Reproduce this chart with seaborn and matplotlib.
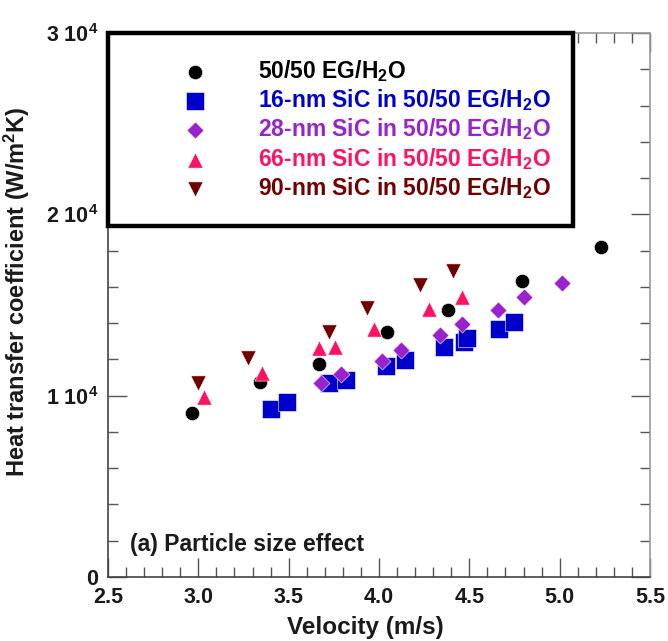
import numpy as np
import pandas as pd
import matplotlib
matplotlib.use("Agg")
import matplotlib.pyplot as plt
import seaborn as sns
from matplotlib.ticker import MultipleLocator, FixedLocator

# ---- data ----
base_v = [2.965, 3.341, 3.668, 4.044, 4.382, 4.792, 5.229]
base_h = [9044, 10754, 11747, 13512, 14725, 16324, 18200]

sic16_v = [3.402, 3.491, 3.723, 3.817, 4.039, 4.144, 4.360, 4.470, 4.487, 4.664, 4.747]
sic16_h = [9265, 9651, 10699, 10865, 11637, 11968, 12685, 12960, 13181, 13677, 14063]

sic28_v = [3.679, 3.790, 4.017, 4.122, 4.338, 4.459, 4.659, 4.803, 5.013]
sic28_h = [10699, 11195, 11912, 12519, 13346, 13953, 14725, 15442, 16214]

sic66_v = [3.031, 3.352, 3.668, 3.756, 3.972, 4.277, 4.459]
sic66_h = [9927, 11251, 12629, 12685, 13677, 14780, 15442]

sic90_v = [2.998, 3.275, 3.723, 3.934, 4.227, 4.410]
sic90_h = [10699, 12078, 13512, 14835, 16104, 16876]

labels = [
    "50/50 EG/H$_2$O",
    "16-nm SiC in 50/50 EG/H$_2$O",
    "28-nm SiC in 50/50 EG/H$_2$O",
    "66-nm SiC in 50/50 EG/H$_2$O",
    "90-nm SiC in 50/50 EG/H$_2$O",
]
colors = ["#000000", "#0000CC", "#9922CC", "#FF1166", "#700000"]
markers = ["o", "s", "D", "^", "v"]
sizes = [105, 150, 75, 120, 120]

x_ticks = [2.5, 3.0, 3.5, 4.0, 4.5, 5.0, 5.5]
x_ticklabels = ["2.5", "3.0", "3.5", "4.0", "4.5", "5.0", "5.5"]
y_ticks = [0, 10000, 20000, 30000]
y_ticklabels = ["0", "1 10$^4$", "2 10$^4$", "3 10$^4$"]

series = [(base_v, base_h), (sic16_v, sic16_h), (sic28_v, sic28_h),
          (sic66_v, sic66_h), (sic90_v, sic90_h)]

frames = []
for lab, (v, h) in zip(labels, series):
    frames.append(pd.DataFrame({"v": v, "h": h, "fluid": lab}))
df = pd.concat(frames, ignore_index=True)

sns.set_style("ticks")
plt.rcParams["font.family"] = ["Liberation Sans", "DejaVu Sans"]
plt.rcParams["font.weight"] = "bold"
plt.rcParams["mathtext.fontset"] = "custom"
plt.rcParams["mathtext.rm"] = "Liberation Sans:bold"
plt.rcParams["mathtext.it"] = "Liberation Sans:bold"
plt.rcParams["mathtext.bf"] = "Liberation Sans:bold"
plt.rcParams["mathtext.default"] = "bf"

fig = plt.figure(figsize=(6.68, 6.41), dpi=100)
ax = fig.add_axes([108 / 668, 1 - 577 / 641, 542 / 668, 544 / 641])

for lab, col, mk, sz in zip(labels, colors, markers, sizes):
    sub = df[df["fluid"] == lab]
    sns.scatterplot(data=sub, x="v", y="h", ax=ax, color=col, marker=mk,
                    s=sz, edgecolor="white", linewidth=0.4, label=lab, zorder=3)

ax.set_xlim(2.5, 5.5)
ax.set_ylim(0, 30000)
ax.xaxis.set_major_locator(FixedLocator(x_ticks))
ax.set_xticklabels(x_ticklabels)
ax.yaxis.set_major_locator(FixedLocator(y_ticks))
ax.set_yticklabels(y_ticklabels)
ax.xaxis.set_minor_locator(MultipleLocator(0.1))
ax.yaxis.set_minor_locator(MultipleLocator(2000))
ax.tick_params(which="both", direction="in", top=True, right=True,
               color="#555555", width=1.0, labelsize=15.5, labelcolor="#1a1a1a")
ax.tick_params(which="major", length=14, pad=7)
ax.tick_params(which="minor", length=7)
for side in ["left", "bottom"]:
    ax.spines[side].set_color("#444444")
    ax.spines[side].set_linewidth(1.2)
for side in ["top", "right"]:
    ax.spines[side].set_color("#999999")
    ax.spines[side].set_linewidth(1.2)

ax.set_xlabel("Velocity (m/s)", fontsize=17.5, fontweight="bold", color="#1a1a1a")
ax.xaxis.set_label_coords(0.474, -0.072)
ax.set_ylabel("Heat transfer coefficient (W/m$^2$K)", fontsize=17, fontweight="bold",
              color="#1a1a1a")
ax.yaxis.set_label_coords(-0.14, 0.524)

ax.text(0.041, 0.059, "(a) Particle size effect", transform=ax.transAxes,
        fontsize=16.5, fontweight="bold", color="#1a1a1a", va="center", ha="left")

leg = ax.legend(loc="upper left", bbox_to_anchor=(0.0, 0.0, 0.858, 1.0),
                mode="expand", borderaxespad=0.0, fontsize=16.5, frameon=True,
                fancybox=False, borderpad=1.08, handlelength=5.4,
                handletextpad=0.05, labelspacing=0.15, markerscale=1.0)
frame = leg.get_frame()
frame.set_edgecolor("black")
frame.set_linewidth(3.2)
frame.set_alpha(1)
leg.set_zorder(5)
for txt, col in zip(leg.get_texts(), colors):
    txt.set_color(col)
    txt.set_fontweight("bold")

fig.savefig("out.png", dpi=100)
